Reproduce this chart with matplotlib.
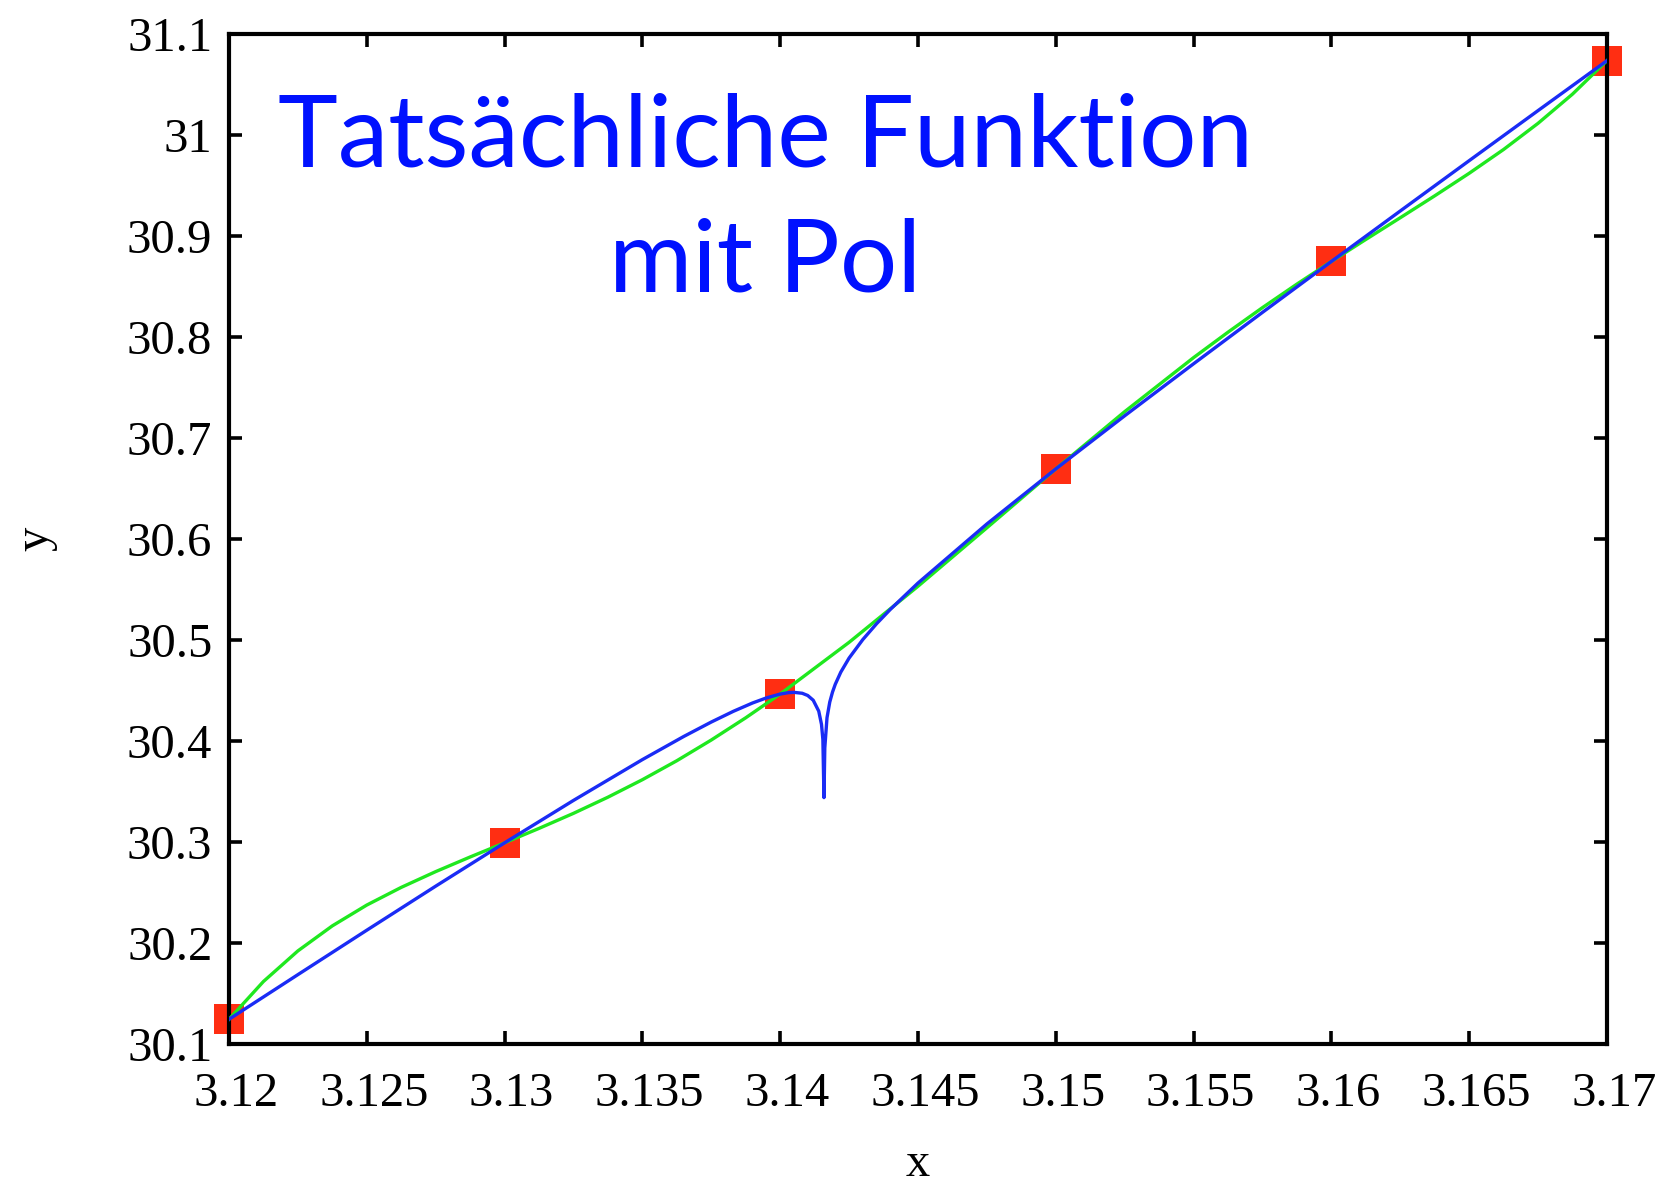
import matplotlib
matplotlib.use("Agg")
import matplotlib.pyplot as plt
import matplotlib.transforms as mtransforms

# Stuetzstellen (rote Quadrate)
x_pts = [3.12, 3.13, 3.14, 3.15, 3.16, 3.17]
y_pts = [30.1245, 30.2992, 30.4465, 30.6694, 30.8748, 31.0736]

# tatsaechliche Funktion mit Pol bei x ~ 3.1416 (blau)
x_true = [3.1200, 3.1225, 3.1250, 3.1275, 3.1300, 3.1325, 3.1350, 3.1365,
          3.1375, 3.1383, 3.1390, 3.1395, 3.1400, 3.1403, 3.1405, 3.1408,
          3.1410, 3.1412, 3.1414, 3.1415, 3.14155, 3.14159, 3.14162, 3.1417,
          3.1418, 3.1419, 3.1420, 3.1422, 3.1425, 3.1430, 3.1435, 3.1440,
          3.1450, 3.1475, 3.1500, 3.1525, 3.1550, 3.1575, 3.1600, 3.1625,
          3.1650, 3.1675, 3.1700]
y_true = [30.1245, 30.1687, 30.2127, 30.2563, 30.2992, 30.3412, 30.3816, 30.4045,
          30.4188, 30.4294, 30.4377, 30.4427, 30.4465, 30.4479, 30.4482, 30.4473,
          30.4451, 30.4404, 30.4296, 30.4165, 30.4016, 30.3440, 30.3932, 30.4231,
          30.4386, 30.4485, 30.4562, 30.4682, 30.4821, 30.5005, 30.5162, 30.5304,
          30.5564, 30.6149, 30.6694, 30.7220, 30.7735, 30.8244, 30.8748, 30.9248,
          30.9746, 31.0242, 31.0736]

# Interpolationspolynom durch die Stuetzstellen (gruen)
x_poly = [3.12000, 3.12125, 3.12250, 3.12375, 3.12500, 3.12625, 3.12750,
          3.12875, 3.13000, 3.13125, 3.13250, 3.13375, 3.13500, 3.13625,
          3.13750, 3.13875, 3.14000, 3.14250, 3.14500, 3.14750, 3.15000,
          3.15250, 3.15500, 3.15625, 3.15750, 3.15875, 3.16000, 3.16125,
          3.16250, 3.16375, 3.16500, 3.16625, 3.16750, 3.16875, 3.17000]
y_poly = [30.1245, 30.1619, 30.1922, 30.2170, 30.2376, 30.2551, 30.2707,
          30.2852, 30.2992, 30.3135, 30.3284, 30.3444, 30.3617, 30.3805,
          30.4010, 30.4230, 30.4465, 30.4977, 30.5532, 30.6111, 30.6694,
          30.7261, 30.7796, 30.8048, 30.8291, 30.8524, 30.8748, 30.8966,
          30.9181, 30.9398, 30.9621, 30.9857, 31.0116, 31.0405, 31.0736]

x_ticks = [3.12, 3.125, 3.13, 3.135, 3.14, 3.145, 3.15, 3.155, 3.16, 3.165, 3.17]
x_labels = ["3.12", "3.125", "3.13", "3.135", "3.14", "3.145", "3.15",
            "3.155", "3.16", "3.165", "3.17"]
y_ticks = [30.1, 30.2, 30.3, 30.4, 30.5, 30.6, 30.7, 30.8, 30.9, 31.0, 31.1]
y_labels = ["30.1", "30.2", "30.3", "30.4", "30.5", "30.6", "30.7",
            "30.8", "30.9", "31", "31.1"]

plt.rcParams["font.family"] = ["Liberation Serif", "DejaVu Serif"]

fig = plt.figure(figsize=(16.58, 11.86), dpi=100)
ax = fig.add_axes([0.1381, 0.1197, 0.8311, 0.8516])

ax.plot(x_pts, y_pts, linestyle="none", marker="s", markersize=22,
        color="#ff2e12", markeredgewidth=0, clip_on=False, zorder=2)
ax.plot(x_poly, y_poly, color="#1fe81f", linewidth=2.4, zorder=3)
ax.plot(x_true, y_true, color="#1a2cf5", linewidth=2.4, zorder=4)

ax.set_xlim(3.12, 3.17)
ax.set_ylim(30.1, 31.1)
ax.set_xticks(x_ticks)
ax.set_xticklabels(x_labels)
ax.set_yticks(y_ticks)
ax.set_yticklabels(y_labels)

for s in ax.spines.values():
    s.set_linewidth(3.0)
    s.set_zorder(2.5)
ax.tick_params(direction="in", length=9.5, width=2.6, labelsize=35,
               top=True, right=True)
ax.tick_params(axis="x", pad=20)
ax.tick_params(axis="y", pad=12)

# x-Beschriftungen leicht nach rechts versetzt
shift = mtransforms.ScaledTranslation(7 / 100, 0, fig.dpi_scale_trans)
for lab in ax.get_xticklabels():
    lab.set_transform(lab.get_transform() + shift)

ax.set_xlabel("x", fontsize=35, labelpad=19)
ax.set_ylabel("y", fontsize=35, labelpad=50)

title_kw = dict(color="#0011ff", fontsize=73, family=["Lato", "DejaVu Sans"],
                ha="center", va="baseline")
fig.text(0.4614, 0.860, "Tatsächliche Funktion", **title_kw)
fig.text(0.4614, 0.7546, "mit Pol", **title_kw)

fig.savefig("out.png", dpi=100)
